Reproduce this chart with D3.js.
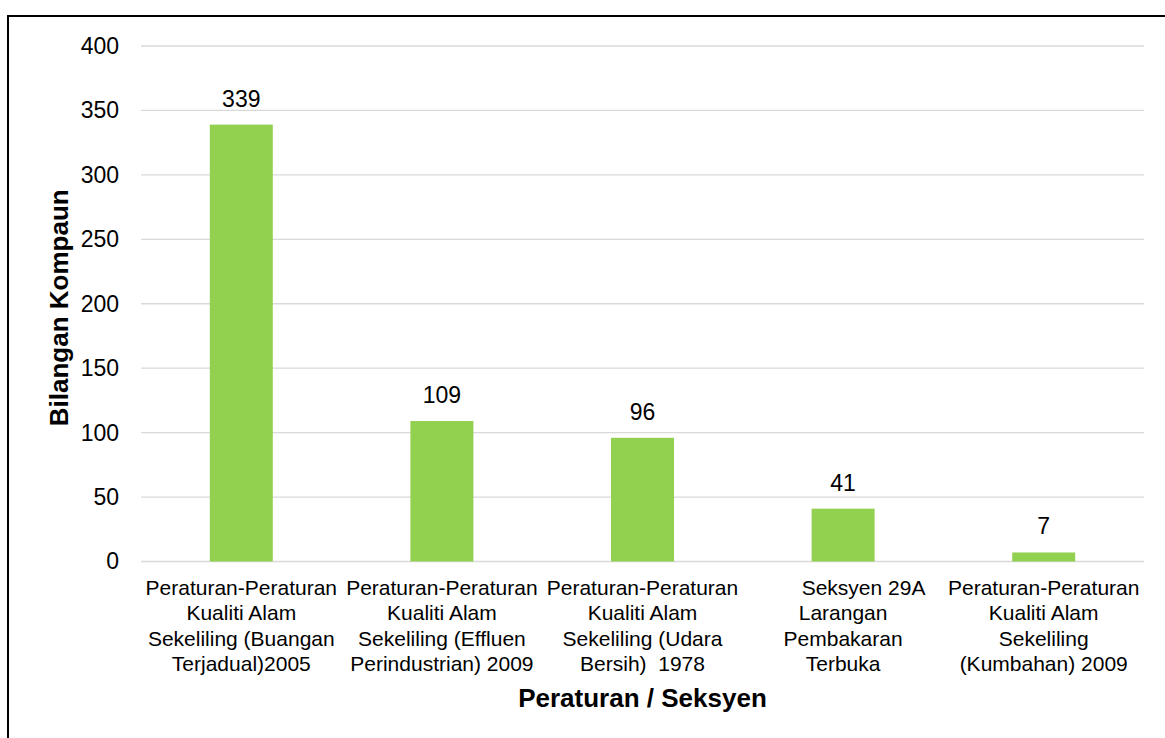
<!DOCTYPE html>
<html>
<head>
<meta charset="utf-8">
<script src="https://cdn.jsdelivr.net/npm/d3@7"></script>
<style>
  html, body { margin: 0; padding: 0; background: #fff; }
  svg { display: block; font-family: "Liberation Sans", Arial, sans-serif; }
  text { white-space: pre; }
</style>
</head>
<body>
<svg id="chart" width="1165" height="738"></svg>
<script>
// Compound counts by regulation / section
const categories = [
  "Peraturan-Peraturan Kualiti Alam Sekeliling (Buangan Terjadual)2005",
  "Peraturan-Peraturan Kualiti Alam Sekeliling (Effluen Perindustrian) 2009",
  "Peraturan-Peraturan Kualiti Alam Sekeliling (Udara Bersih)  1978",
  "Seksyen 29A Larangan Pembakaran Terbuka",
  "Peraturan-Peraturan Kualiti Alam Sekeliling (Kumbahan) 2009"
];
const categoryLines = [
  ["Peraturan-Peraturan", "Kualiti Alam", "Sekeliling (Buangan", "Terjadual)2005"],
  ["Peraturan-Peraturan", "Kualiti Alam", "Sekeliling (Effluen", "Perindustrian) 2009"],
  ["Peraturan-Peraturan", "Kualiti Alam", "Sekeliling (Udara", "Bersih)  1978"],
  ["       Seksyen 29A", "Larangan", "Pembakaran", "Terbuka"],
  ["Peraturan-Peraturan", "Kualiti Alam", "Sekeliling", "(Kumbahan) 2009"]
];
const values = [339, 109, 96, 41, 7];
const yTicks = [0, 50, 100, 150, 200, 250, 300, 350, 400];
const yTitle = "Bilangan Kompaun";
const xTitle = "Peraturan / Seksyen";

const svg = d3.select("#chart");

// outer chart frame
svg.append("rect")
  .attr("x", 8).attr("y", 16)
  .attr("width", 1250).attr("height", 800)
  .attr("fill", "none").attr("stroke", "#000").attr("stroke-width", 2);

const plot = { left: 141, right: 1144, top: 46, bottom: 561.5 };

const x = d3.scaleBand()
  .domain(categories)
  .range([plot.left, plot.right])
  .paddingInner(0.686)
  .paddingOuter(0.343);

const y = d3.scaleLinear()
  .domain([0, 400])
  .range([plot.bottom, plot.top]);

// horizontal gridlines
svg.append("g")
  .selectAll("line")
  .data(yTicks)
  .join("line")
  .attr("x1", plot.left).attr("x2", plot.right)
  .attr("y1", d => y(d)).attr("y2", d => y(d))
  .attr("stroke", "#D9D9D9").attr("stroke-width", 1.3);

// y axis tick labels
const yAxis = d3.axisLeft(y).tickValues(yTicks).tickSize(0).tickPadding(22);
svg.append("g")
  .attr("transform", `translate(${plot.left},0)`)
  .call(yAxis)
  .call(g => g.select(".domain").remove())
  .call(g => g.selectAll("text")
    .attr("font-family", "Liberation Sans, Arial, sans-serif")
    .attr("font-size", 23).attr("fill", "#000"));

// bars
svg.append("g")
  .selectAll("rect")
  .data(values)
  .join("rect")
  .attr("x", (d, i) => x(categories[i]))
  .attr("width", x.bandwidth())
  .attr("y", d => y(d))
  .attr("height", d => y(0) - y(d))
  .attr("fill", "#92D050");

// value labels
svg.append("g")
  .selectAll("text")
  .data(values)
  .join("text")
  .attr("x", (d, i) => x(categories[i]) + x.bandwidth() / 2)
  .attr("y", d => y(d) - 18)
  .attr("text-anchor", "middle")
  .attr("font-size", 23)
  .attr("fill", "#000")
  .text(d => d);

// category labels
const catG = svg.append("g");
categoryLines.forEach((lines, i) => {
  const cx = x(categories[i]) + x.bandwidth() / 2;
  const t = catG.append("text")
    .attr("x", cx)
    .attr("y", 595)
    .attr("text-anchor", "middle")
    .attr("font-size", 21)
    .attr("fill", "#000")
    .attr("xml:space", "preserve");
  lines.forEach((ln, j) => {
    t.append("tspan")
      .attr("x", cx)
      .attr("dy", j === 0 ? 0 : 25.4)
      .text(ln);
  });
});

// axis titles
svg.append("text")
  .attr("transform", `translate(68,${(plot.top + plot.bottom) / 2 + 4}) rotate(-90)`)
  .attr("text-anchor", "middle")
  .attr("font-size", 26)
  .attr("font-weight", "bold")
  .attr("fill", "#000")
  .text(yTitle);

svg.append("text")
  .attr("x", (plot.left + plot.right) / 2)
  .attr("y", 707)
  .attr("text-anchor", "middle")
  .attr("font-size", 26)
  .attr("font-weight", "bold")
  .attr("fill", "#000")
  .text(xTitle);
</script>
</body>
</html>
